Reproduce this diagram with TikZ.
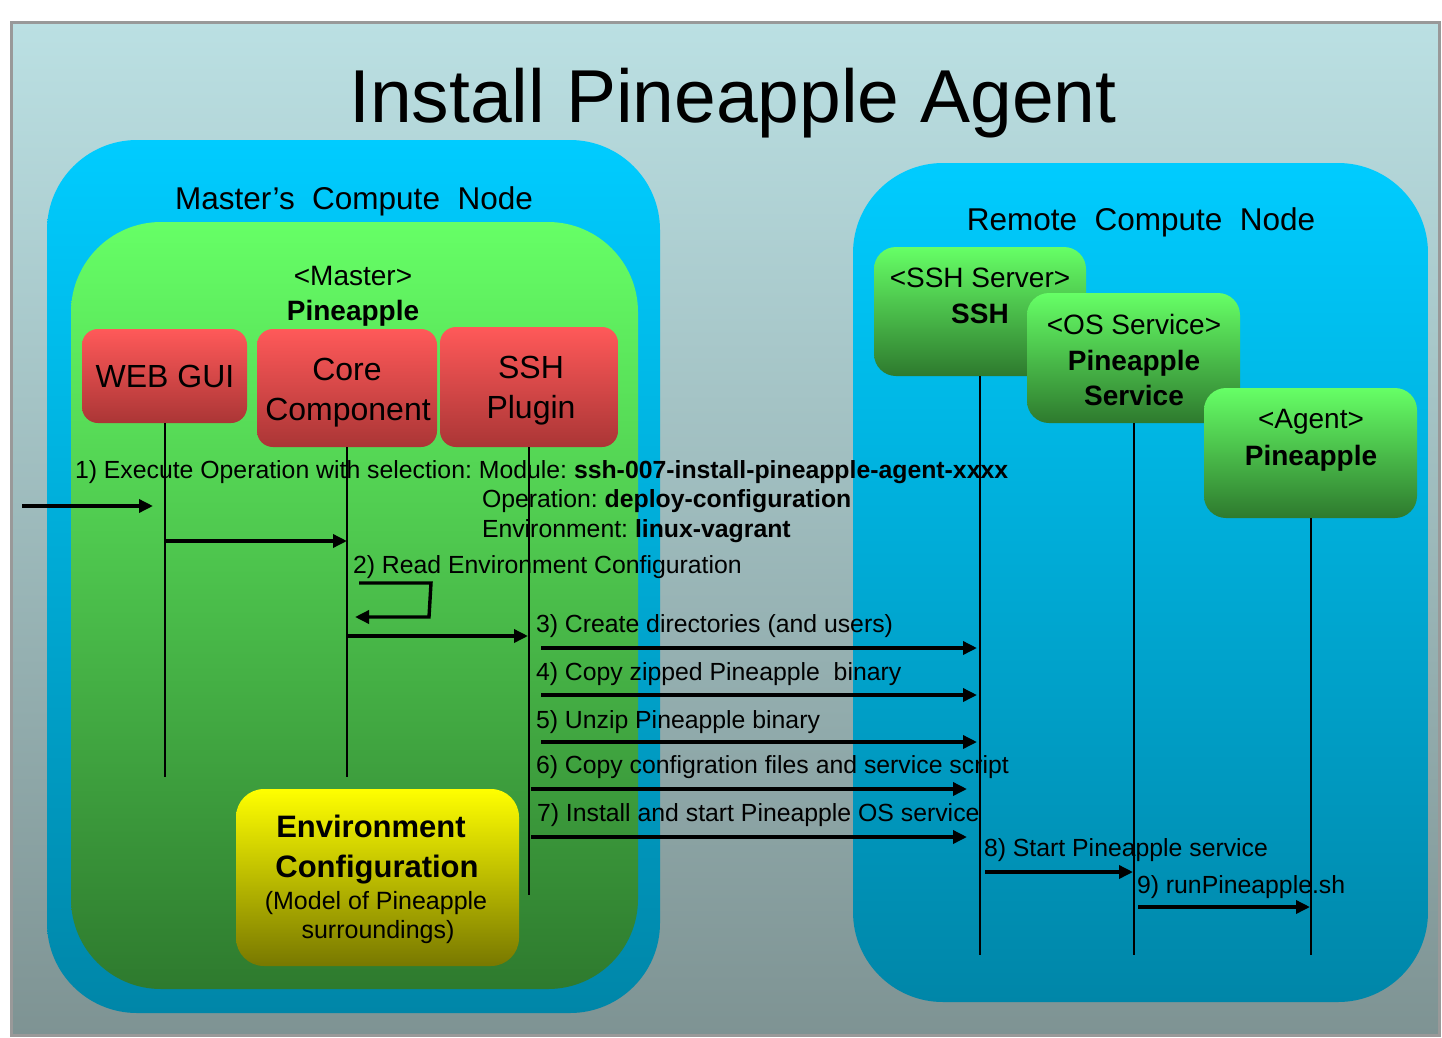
\documentclass[tikz,border=0pt]{standalone}
\usepackage{fontspec}
\setmainfont{Liberation Sans}
\usetikzlibrary{arrows.meta}
\frenchspacing
\definecolor{bgtop}{RGB}{187,224,227}
\definecolor{bgbot}{RGB}{126,147,147}
\definecolor{cytop}{RGB}{0,204,255}
\definecolor{cybot}{RGB}{0,134,168}
\definecolor{grtop}{RGB}{102,255,102}
\definecolor{grbot}{RGB}{46,122,46}
\definecolor{rdtop}{RGB}{255,89,89}
\definecolor{rdbot}{RGB}{166,52,52}
\definecolor{yltop}{RGB}{255,255,0}
\definecolor{ylbot}{RGB}{120,120,0}
\definecolor{framegray}{RGB}{153,153,153}
\begin{document}
\begin{tikzpicture}[x=1pt,y=-1pt,
  box/.style={inner sep=0pt, outer sep=0pt, anchor=north west},
  cybox/.style={box, top color=cytop, bottom color=cybot, rounded corners=90pt},
  grbig/.style={box, top color=grtop, bottom color=grbot, rounded corners=90pt},
  redbox/.style={box, top color=rdtop, bottom color=rdbot!95!rdtop, rounded corners=16pt},
  grsmall/.style={box, top color=grtop, bottom color=grbot, rounded corners=22pt},
  ylbox/.style={box, top color=yltop, bottom color=ylbot, rounded corners=28pt},
  lbl/.style={inner sep=0pt, outer sep=0pt, anchor=base},
  lblw/.style={inner sep=0pt, outer sep=0pt, anchor=base west},
  ttl/.style={font=\fontsize{75}{80}\selectfont},
  cmp/.style={font=\fontsize{31.5}{36}\selectfont},
  sub/.style={font=\fontsize{28}{32}\selectfont},
  subb/.style={font=\fontsize{28}{32}\selectfont\bfseries},
  rtx/.style={font=\fontsize{32}{36}\selectfont},
  msg/.style={font=\fontsize{24.8}{28}\selectfont},
  life/.style={line width=2pt},
  msgarrow/.style={line width=3.4pt, -{Triangle[length=14pt,width=13pt]}}
]
\useasboundingbox (0,0) rectangle (1442,1038);

% background
\node[box, draw=framegray, line width=3pt, top color=bgtop, bottom color=bgbot,
      rounded corners=0pt, minimum width=1428pt, minimum height=1013pt] (bg) at (11.5,22.5) {};
\node[lbl, ttl] (title) at (733,122) {Install Pineapple Agent};

% compute nodes
\node[cybox, minimum width=613pt, minimum height=873pt] (master) at (47,140) {};
\node[cybox, minimum width=575pt, minimum height=839pt] (remote) at (853,163) {};
\node[lbl, cmp] (masterlbl) at (354,209) {Master’s\ \ Compute\ \ Node};
\node[lbl, cmp] (remotelbl) at (1141,230) {Remote\ \ Compute\ \ Node};

% master pineapple
\node[grbig, minimum width=567pt, minimum height=767pt] (mpine) at (71,222) {};
\node[lbl, sub] (mstereo) at (353,285) {<Master>};
\node[lbl, subb] (mname) at (353,320) {Pineapple};

% red components
\node[redbox, minimum width=165pt, minimum height=94pt] (web) at (82,329) {};
\node[redbox, minimum width=180pt, minimum height=118pt] (core) at (257,329) {};
\node[redbox, minimum width=178pt, minimum height=120pt] (sshp) at (440,327) {};
\node[lbl, rtx] (webt) at (165,387) {WEB GUI};
\node[lbl, rtx] (coret1) at (347,380) {Core};
\node[lbl, rtx] (coret2) at (348,420) {Component};
\node[lbl, rtx] (sshpt1) at (531,378) {SSH};
\node[lbl, rtx] (sshpt2) at (531,418) {Plugin};

% environment configuration
\node[ylbox, minimum width=283pt, minimum height=177pt] (env) at (236,789) {};
\node[lbl, font=\fontsize{31}{36}\selectfont\bfseries] (envt1) at (371,837) {Environment};
\node[lbl, font=\fontsize{31}{36}\selectfont\bfseries] (envt2) at (377,877) {Configuration};
\node[lbl, font=\fontsize{25}{28}\selectfont] (envt3) at (376,909) {(Model of Pineapple};
\node[lbl, font=\fontsize{25}{28}\selectfont] (envt4) at (378,938) {surroundings)};

% remote components
\node[grsmall, minimum width=212pt, minimum height=129pt] (sshs) at (874,247) {};
\node[lbl, sub] (sshst1) at (980,287) {<SSH Server>};
\node[lbl, subb] (sshst2) at (980,323) {SSH};
\node[grsmall, minimum width=213pt, minimum height=130pt] (oss) at (1027,293) {};
\node[lbl, sub] (osst1) at (1134,334) {<OS Service>};
\node[lbl, subb] (osst2) at (1134,370) {Pineapple};
\node[lbl, subb] (osst3) at (1134,405) {Service};
\node[grsmall, minimum width=213pt, minimum height=130pt] (agent) at (1204,388) {};
\node[lbl, sub] (agentt1) at (1311,428) {<Agent>};
\node[lbl, subb] (agentt2) at (1311,465) {Pineapple};

% message texts
\node[lblw, msg] (m1) at (75,478) {1) Execute Operation with selection: Module: \textbf{ssh-007-install-pineapple-agent-xxxx}};
\node[lblw, msg] (m1b) at (482,507) {Operation: \textbf{deploy-configuration}};
\node[lblw, msg] (m1c) at (482,537) {Environment: \textbf{linux-vagrant}};
\node[lblw, msg] (m2) at (353,573) {2) Read Environment Configuration};
\node[lblw, msg] (m3) at (536,632) {3) Create directories (and users)};
\node[lblw, msg] (m4) at (536,680) {4) Copy zipped Pineapple\ \ binary};
\node[lblw, msg] (m5) at (536,728) {5) Unzip Pineapple binary};
\node[lblw, msg] (m6) at (536,773) {6) Copy configration files and service script};
\node[lblw, msg] (m7) at (537,821) {7) Install and start Pineapple OS service};
\node[lblw, msg] (m8) at (984,856) {8) Start Pineapple service};
\node[lblw, msg] (m9) at (1137,893) {9) runPineapple.sh};

% lifelines
\coordinate (webB) at (165,777);
\coordinate (coreB) at (347,777);
\coordinate (sshpB) at (529,895);
\coordinate (sshsB) at (980,955);
\coordinate (ossB) at (1134,955);
\coordinate (agentB) at (1311,955);
\draw[life] (web.south -| webB) -- (webB);
\draw[life] (core.south -| coreB) -- (coreB);
\draw[life] (sshp.south -| sshpB) -- (sshpB);
\draw[life] (sshs.south -| sshsB) -- (sshsB);
\draw[life] (oss.south -| ossB) -- (ossB);
\draw[life] (agent.south -| agentB) -- (agentB);

% messages
\coordinate (a0s) at (22,506);   \coordinate (a0e) at (153,506);
\coordinate (a1s) at (166,541);  \coordinate (a1e) at (347,541);
\coordinate (l1) at (359,583); \coordinate (l2) at (431,583);
\coordinate (l3) at (429,617); \coordinate (l4) at (355,617);
\coordinate (a2s) at (348,636);  \coordinate (a2e) at (528,636);
\coordinate (a3s) at (541,648);  \coordinate (a3e) at (977,648);
\coordinate (a4s) at (541,695);  \coordinate (a4e) at (977,695);
\coordinate (a5s) at (541,742);  \coordinate (a5e) at (977,742);
\coordinate (a6s) at (531,789);  \coordinate (a6e) at (967,789);
\coordinate (a7s) at (531,837);  \coordinate (a7e) at (967,837);
\coordinate (a8s) at (985,872);  \coordinate (a8e) at (1133,872);
\coordinate (a9s) at (1138,907); \coordinate (a9e) at (1310,907);
\draw[msgarrow] (a0s) -- (a0e);
\draw[msgarrow] (a1s) -- (a1e);
\draw[msgarrow] (l1) -- (l2) -- (l3) -- (l4);
\draw[msgarrow] (a2s) -- (a2e);
\draw[msgarrow] (a3s) -- (a3e);
\draw[msgarrow] (a4s) -- (a4e);
\draw[msgarrow] (a5s) -- (a5e);
\draw[msgarrow] (a6s) -- (a6e);
\draw[msgarrow] (a7s) -- (a7e);
\draw[msgarrow] (a8s) -- (a8e);
\draw[msgarrow] (a9s) -- (a9e);
\end{tikzpicture}
\end{document}
